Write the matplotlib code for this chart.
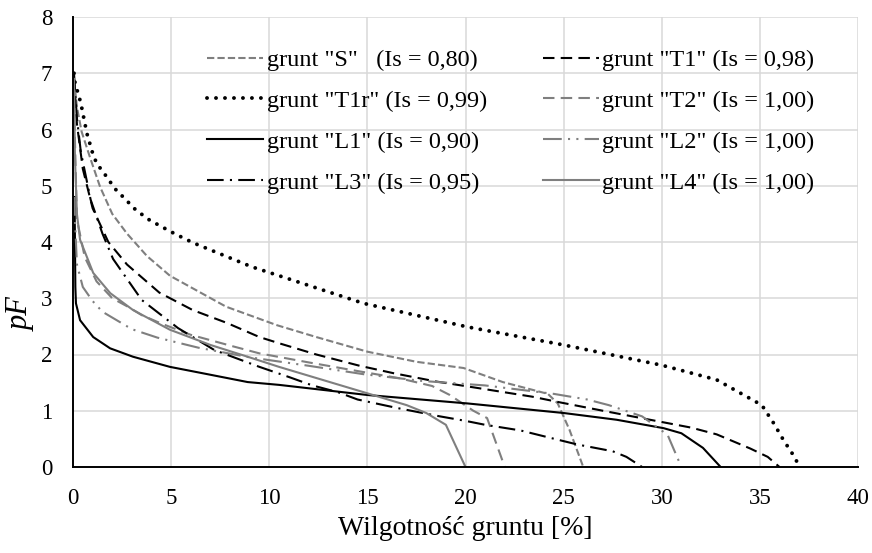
import matplotlib
matplotlib.use("Agg")
import matplotlib.pyplot as plt

plt.rcParams['font.family'] = ['Liberation Serif', 'DejaVu Serif']

# ---- data (moisture [%], pF) ----
s_x = [0.05, 0.2, 0.44, 0.87, 1.38, 2.0, 2.75, 3.77, 4.94, 7.8, 10.4, 12.4, 15, 17.5, 19.9, 21.9, 24.2, 24.7, 25.3, 26]
s_y = [6.9, 6.4, 5.96, 5.5, 4.98, 4.5, 4.15, 3.75, 3.4, 2.85, 2.52, 2.31, 2.05, 1.87, 1.76, 1.51, 1.3, 1.13, 0.66, 0]

t1_x = [0.05, 0.2, 0.5, 1.0, 1.8, 2.75, 4.4, 6.1, 7.85, 9.5, 10.5, 12.4, 14.6, 16.3, 18.5, 20.7, 23.4, 24.8, 27, 29.4, 31.5, 32.8, 34.5, 35.4, 36]
t1_y = [6.9, 6.1, 5.3, 4.6, 4.0, 3.6, 3.1, 2.79, 2.56, 2.31, 2.2, 2.0, 1.8, 1.67, 1.52, 1.4, 1.25, 1.15, 1.0, 0.84, 0.7, 0.58, 0.33, 0.18, 0]

t1r_x = [0.05, 0.1, 0.25, 0.4, 0.5, 0.6, 0.7, 1.0, 1.2, 1.5, 1.8, 2.1, 2.5, 3.2, 3.9, 5, 5.8, 6.3, 9.1, 14.8, 20.1, 25, 30, 32.8, 35.1, 35.7, 36.2, 36.8, 37]
t1r_y = [7.0, 6.84, 6.65, 6.47, 6.29, 6.12, 5.94, 5.58, 5.4, 5.26, 5.12, 4.96, 4.82, 4.57, 4.39, 4.18, 4.04, 3.96, 3.56, 2.91, 2.49, 2.17, 1.81, 1.55, 1.1, 0.78, 0.48, 0.16, 0]

t2_x = [0.05, 0.2, 0.6, 1.2, 2.0, 2.9, 3.5, 4.5, 6, 8.1, 9.5, 12, 14.6, 16.6, 18.3, 19.2, 20.4, 21.1, 22]
t2_y = [6.5, 4.4, 3.73, 3.3, 3.0, 2.83, 2.7, 2.55, 2.35, 2.15, 2.02, 1.86, 1.7, 1.58, 1.44, 1.28, 1.0, 0.87, 0]

l1_x = [0.08, 0.12, 0.15, 0.36, 1.03, 1.89, 3.06, 4.94, 7, 8.9, 10.5, 15, 20.1, 25, 27.7, 30.1, 31, 32.1, 33]
l1_y = [4.8, 3.2, 2.91, 2.61, 2.31, 2.11, 1.96, 1.78, 1.64, 1.51, 1.46, 1.28, 1.13, 0.96, 0.84, 0.69, 0.6, 0.34, 0]

l2_x = [0.05, 0.2, 0.5, 1.0, 1.5, 3.0, 4.3, 6.4, 9, 12, 14.8, 17.8, 21, 24.5, 26.2, 27.3, 29, 30.3, 31]
l2_y = [4.8, 3.6, 3.2, 2.95, 2.76, 2.45, 2.3, 2.12, 1.95, 1.8, 1.65, 1.53, 1.45, 1.3, 1.2, 1.1, 0.9, 0.57, 0]

l3_x = [0.05, 0.2, 0.4, 0.9, 1.5, 2.04, 3.5, 5.35, 7.2, 9.5, 11, 12.2, 13.5, 14.5, 16.5, 18.7, 20, 21, 22.8, 24.3, 25.7, 27.5, 28.2, 29]
l3_y = [7.0, 6.2, 5.6, 4.75, 4.15, 3.7, 2.97, 2.47, 2.08, 1.78, 1.6, 1.45, 1.33, 1.2, 1.05, 0.9, 0.82, 0.75, 0.65, 0.52, 0.4, 0.28, 0.18, 0]

l4_x = [0.05, 0.1, 0.2, 0.36, 1.03, 1.9, 3.06, 4.94, 7, 8.9, 10.5, 15, 17, 18, 19, 20]
l4_y = [6.9, 5.5, 4.5, 4.04, 3.45, 3.09, 2.79, 2.44, 2.17, 1.96, 1.78, 1.31, 1.1, 0.96, 0.75, 0]

labels = ['grunt "S"   (Is = 0,80)', 'grunt "T1" (Is = 0,98)',
          'grunt "T1r" (Is = 0,99)', 'grunt "T2" (Is = 1,00)',
          'grunt "L1" (Is = 0,90)', 'grunt "L2" (Is = 1,00)',
          'grunt "L3" (Is = 0,95)', 'grunt "L4" (Is = 1,00)']

GRAY = '#7f7f7f'
fig = plt.figure(figsize=(8.72, 5.53), dpi=100)
ax = fig.add_axes([73/872, 1-467/553, (858-73)/872, (467-17)/553])

lw = 1.5
h = {}
h['S'], = ax.plot(s_x, s_y, color=GRAY, lw=lw, linestyle=(0, (3.5, 1.5)))
h['T1'], = ax.plot(t1_x, t1_y, color='black', lw=lw, linestyle=(0, (5.5, 3)))
h['T1r'], = ax.plot(t1r_x, t1r_y, color='black', lw=2.8, linestyle=(0, (0.01, 2.3)),
                    dash_capstyle='round')
h['T2'], = ax.plot(t2_x, t2_y, color=GRAY, lw=lw, linestyle=(0, (5.5, 3)))
h['L1'], = ax.plot(l1_x, l1_y, color='black', lw=lw, linestyle='-')
h['L2'], = ax.plot(l2_x, l2_y, color=GRAY, lw=lw, linestyle=(0, (9, 3, 1, 3, 1, 3)))
h['L3'], = ax.plot(l3_x, l3_y, color='black', lw=lw, linestyle=(0, (8, 3, 1, 3)))
h['L4'], = ax.plot(l4_x, l4_y, color=GRAY, lw=lw, linestyle='-')

ax.set_xlim(0, 40)
ax.set_ylim(0, 8)
ax.set_xticks(range(0, 41, 5))
ax.set_yticks(range(0, 9))
ax.grid(True, color='#d9d9d9', lw=1.1)
ax.set_axisbelow(True)
for sp in ['top', 'right']:
    ax.spines[sp].set_visible(False)
for sp in ['left', 'bottom']:
    ax.spines[sp].set_linewidth(1.4)
ax.tick_params(length=0, labelsize=16.5, pad=15)

ax.set_xlabel('Wilgotność gruntu [%]', fontsize=20, labelpad=5)
ax.set_ylabel('pF', fontsize=22, style='italic')
ax.yaxis.set_label_coords(-0.048, 0.34)

order = ['S', 'T1r', 'L1', 'L3', 'T1', 'T2', 'L2', 'L4']
lab_map = dict(zip(['S', 'T1', 'T1r', 'T2', 'L1', 'L2', 'L3', 'L4'], labels))
leg = ax.legend([h[k] for k in order], [lab_map[k] for k in order], ncol=2,
                loc='upper left', bbox_to_anchor=(207/872, 1-49/553),
                bbox_transform=fig.transFigure, frameon=False,
                fontsize=17.5, handlelength=2.3, handletextpad=0.15,
                columnspacing=2.3, labelspacing=0.78, borderaxespad=0,
                borderpad=0)

fig.savefig('out.png', dpi=100)
